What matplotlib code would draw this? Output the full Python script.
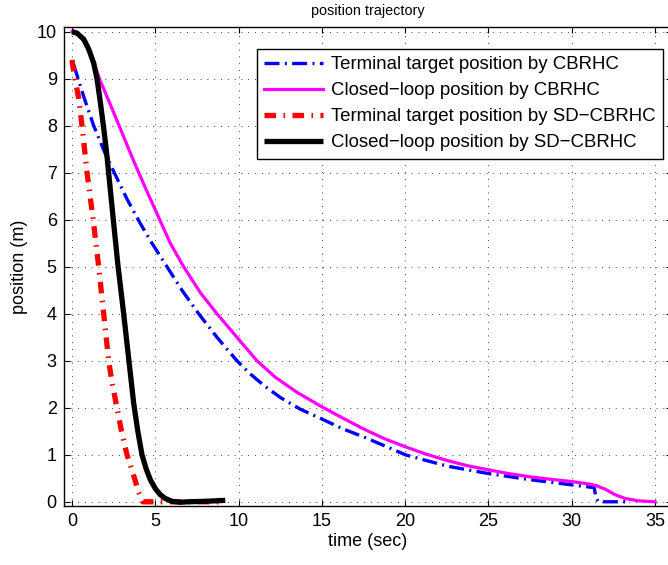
"""Position trajectories: CBRHC vs SD-CBRHC (terminal target and closed-loop)."""
import matplotlib
matplotlib.use("Agg")
import matplotlib.pyplot as plt

plt.rcParams["font.family"] = ["Liberation Sans", "DejaVu Sans"]

# CBRHC terminal target position
t_cb_target = [0.1, 0.7, 1.3, 2.0, 2.7, 3.3, 4.05, 4.8, 5.7, 6.6, 7.6, 8.7, 9.9,
               10.7, 11.5, 12.5, 13.7, 15.0, 16.2, 17.5, 18.7, 20.0, 22.5, 25.0,
               27.5, 30.0, 31.35, 31.45, 31.6, 33.5]
y_cb_target = [9.3, 8.62, 8.0, 7.4, 6.88, 6.44, 5.95, 5.5, 5.0, 4.5, 4.0, 3.5,
               3.0, 2.72, 2.48, 2.22, 1.97, 1.76, 1.56, 1.38, 1.2, 1.0, 0.76,
               0.6, 0.47, 0.36, 0.3, 0.08, 0.0, 0.0]

# CBRHC closed-loop position
t_cb_closed = [0.0, 0.5, 0.9, 1.3, 1.7, 2.3, 3.0, 3.7, 4.4, 5.2, 5.9, 6.7, 7.7,
               8.7, 9.9, 11.1, 12.2, 13.5, 15.0, 16.2, 17.5, 18.7, 20.0, 21.2,
               22.5, 23.7, 25.0, 26.2, 27.5, 28.7, 30.0, 31.0, 31.5, 32.0, 32.6,
               33.2, 34.0, 35.0]
y_cb_closed = [10.0, 9.92, 9.7, 9.35, 8.95, 8.45, 7.85, 7.25, 6.68, 6.05, 5.5,
               5.0, 4.45, 4.0, 3.5, 3.0, 2.65, 2.33, 2.02, 1.79, 1.55, 1.35,
               1.17, 1.02, 0.88, 0.77, 0.68, 0.6, 0.53, 0.48, 0.43, 0.38, 0.34,
               0.27, 0.15, 0.07, 0.02, 0.0]

# SD-CBRHC terminal target position
t_sd_target = [0.0, 0.1, 0.4, 0.6, 0.9, 1.27, 1.6, 1.9, 2.2, 2.42, 2.7, 2.97,
               3.3, 3.75, 4.0, 4.25, 9.0]
y_sd_target = [9.4, 9.15, 8.58, 8.0, 7.0, 6.0, 5.0, 4.0, 3.0, 2.5, 2.0, 1.5,
               1.0, 0.5, 0.2, 0.0, 0.0]

# SD-CBRHC closed-loop position
t_sd_closed = [0.0, 0.3, 0.7, 1.0, 1.3, 1.5, 1.7, 1.9, 2.1, 2.45, 2.75, 3.1,
               3.4, 3.7, 3.95, 4.2, 4.45, 4.7, 5.0, 5.3, 5.6, 6.0, 6.5, 7.0,
               8.0, 9.2]
y_sd_closed = [10.0, 9.97, 9.84, 9.63, 9.33, 9.0, 8.5, 7.95, 7.35, 6.1, 5.05,
               4.0, 3.05, 2.1, 1.5, 1.0, 0.7, 0.47, 0.28, 0.15, 0.07, 0.01,
               -0.01, 0.0, 0.01, 0.03]

labels = ["Terminal target position by CBRHC",
          "Closed\u2212loop position by CBRHC",
          "Terminal target position by SD\u2212CBRHC",
          "Closed\u2212loop position by SD\u2212CBRHC"]

fig = plt.figure(figsize=(6.68, 5.65), dpi=100)
ax = fig.add_axes([63.7 / 668, 59 / 565, 608 / 668, 479 / 565])

ax.plot(t_cb_target, y_cb_target, color="#0000ff", lw=2.4,
        ls=(0, (4.5, 1.6, 0.6, 1.6)), label=labels[0])
ax.plot(t_cb_closed, y_cb_closed, color="#ff00ff", lw=2.3, label=labels[1])
ax.plot(t_sd_target, y_sd_target, color="#ff0000", lw=3.8,
        ls=(0, (2.2, 1.4, 0.3, 1.4)), label=labels[2])
ax.plot(t_sd_closed, y_sd_closed, color="black", lw=3.8,
        solid_capstyle="butt", label=labels[3])

ax.set_xlim(-0.5, 36)
ax.set_ylim(-0.09, 10.1)
ax.set_xticks(range(0, 36, 5))
ax.set_yticks(range(0, 11))
ax.tick_params(direction="in", length=4, width=0.8, labelsize=13,
               top=True, right=True, pad=5)
ax.grid(True, color="0.25", ls=(0, (1, 6)), lw=0.7)
for s in ax.spines.values():
    s.set_linewidth(1.0)

ax.set_xlabel("time (sec)", fontsize=13, labelpad=2)
ax.set_ylabel("position (m)", fontsize=13, labelpad=6)
ax.set_title("position trajectory", fontsize=10.4, pad=9)

leg = ax.legend(loc="upper left", bbox_to_anchor=(0.318, 0.954), borderaxespad=0,
                fontsize=13.4, handlelength=3.15, handletextpad=0.43,
                labelspacing=0.485, borderpad=0.39, fancybox=False, framealpha=1,
                edgecolor="black")
leg.get_frame().set_linewidth(1.0)

fig.savefig("out.png", dpi=100)
